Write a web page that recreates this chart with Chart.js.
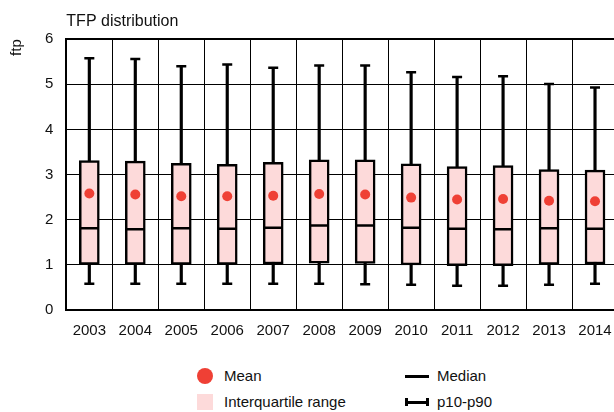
<!DOCTYPE html>
<html>
<head>
<meta charset="utf-8">
<script src="https://cdn.jsdelivr.net/npm/chart.js@4/dist/chart.umd.min.js"></script>
<style>
  html, body { margin: 0; padding: 0; background: #fff; width: 614px; height: 412px; overflow: hidden; }
  body { position: relative; font-family: 'Liberation Sans', Arial, sans-serif; color: #111; }
  #wrap { position: absolute; left: 0; top: 0; width: 630px; height: 358px; }
  .leg { position: absolute; font-size: 15px; line-height: 18px; }
  .mk { position: absolute; }
</style>
</head>
<body>
<div id="wrap"><canvas id="chart"></canvas></div>

<div class="mk" style="left:197px;top:368px;width:16px;height:16px;border-radius:50%;background:rgb(239,64,53);"></div>
<div class="leg" style="left:224px;top:367px;">Mean</div>
<div class="mk" style="left:197px;top:394px;width:16px;height:16px;background:rgb(253,218,218);"></div>
<div class="leg" style="left:224px;top:393px;">Interquartile range</div>
<div class="mk" style="left:405px;top:375px;width:24px;height:2.5px;background:#000;"></div>
<div class="leg" style="left:437px;top:367px;">Median</div>
<div class="mk" style="left:405px;top:398px;width:24px;height:8px;box-sizing:border-box;border-left:3px solid #000;border-right:3px solid #000;"></div>
<div class="mk" style="left:405px;top:401px;width:24px;height:2.5px;background:#000;"></div>
<div class="leg" style="left:437px;top:393px;">p10-p90</div>

<script>
// TFP distribution, 2003-2014
const years = ['2003', '2004', '2005', '2006', '2007', '2008', '2009', '2010', '2011', '2012', '2013', '2014'];
const p10 = [0.58, 0.58, 0.58, 0.58, 0.58, 0.58, 0.57, 0.56, 0.54, 0.54, 0.56, 0.58];
const q1 = [1.01, 1.01, 1.01, 1.01, 1.02, 1.04, 1.03, 1.00, 0.98, 0.98, 1.01, 1.02];
const median = [1.81, 1.79, 1.81, 1.80, 1.82, 1.87, 1.87, 1.82, 1.80, 1.79, 1.81, 1.80];
const q3 = [3.31, 3.30, 3.25, 3.23, 3.27, 3.33, 3.33, 3.24, 3.18, 3.20, 3.11, 3.10];
const p90 = [5.58, 5.56, 5.40, 5.44, 5.37, 5.42, 5.42, 5.27, 5.16, 5.18, 5.01, 4.93];
const mean = [2.58, 2.56, 2.52, 2.52, 2.53, 2.57, 2.56, 2.49, 2.45, 2.46, 2.42, 2.41];

const font = "'Liberation Sans', Arial, sans-serif";
Chart.defaults.font.family = font;
Chart.defaults.color = '#111';

const capStyle = {
  type: 'line',
  showLine: false,
  pointStyle: 'line',
  pointRadius: 5,
  pointHoverRadius: 5,
  borderWidth: 2.5,
  borderColor: '#000',
  order: 3
};

new Chart(document.getElementById('chart'), {
  type: 'bar',
  data: {
    labels: years,
    datasets: [
      {
        label: 'p10-p90',
        data: p10.map((v, i) => [v, p90[i]]),
        backgroundColor: '#000',
        barThickness: 2.5,
        grouped: false,
        order: 5
      },
      {
        label: 'Interquartile range',
        data: q1.map((v, i) => [v, q3[i]]),
        backgroundColor: 'rgb(253,218,218)',
        borderColor: '#000',
        borderWidth: 2.5,
        borderSkipped: false,
        barThickness: 20,
        grouped: false,
        order: 4
      },
      Object.assign({ label: 'p10', data: p10 }, capStyle),
      Object.assign({ label: 'p90', data: p90 }, capStyle),
      {
        type: 'line',
        label: 'Median',
        data: median,
        showLine: false,
        pointStyle: 'line',
        pointRadius: 9.5,
        pointHoverRadius: 9.5,
        borderWidth: 2.5,
        borderColor: '#000',
        order: 2
      },
      {
        type: 'line',
        label: 'Mean',
        data: mean,
        showLine: false,
        pointStyle: 'circle',
        pointRadius: 5,
        pointHoverRadius: 5,
        backgroundColor: 'rgb(239,64,53)',
        borderColor: 'rgb(239,64,53)',
        borderWidth: 0,
        order: 1
      }
    ]
  },
  options: {
    responsive: true,
    maintainAspectRatio: false,
    animation: false,
    layout: { padding: { left: 8, right: 11, top: 4, bottom: 6 } },
    plugins: {
      legend: { display: false },
      tooltip: { enabled: false },
      title: {
        display: true,
        text: 'TFP distribution',
        align: 'start',
        fullSize: false,
        color: '#111',
        font: { size: 16, weight: 'normal' },
        padding: { top: 8, bottom: 8 }
      }
    },
    scales: {
      x: {
        grid: { color: '#000', lineWidth: 1, drawTicks: false, offset: true },
        border: { color: '#000', width: 2 },
        ticks: { padding: 12, font: { size: 15 }, color: '#111' }
      },
      y: {
        min: 0,
        max: 6,
        ticks: { stepSize: 1, padding: 13, font: { size: 15 }, color: '#111' },
        grid: {
          color: '#000',
          drawTicks: false,
          lineWidth: c => (c.tick && c.tick.value === 6 ? 2 : 1)
        },
        border: { color: '#000', width: 2 },
        title: {
          display: true,
          text: 'ftp',
          align: 'end',
          color: '#111',
          font: { size: 15 },
          padding: { top: 0, bottom: 6 }
        }
      }
    }
  }
});
</script>
</body>
</html>
